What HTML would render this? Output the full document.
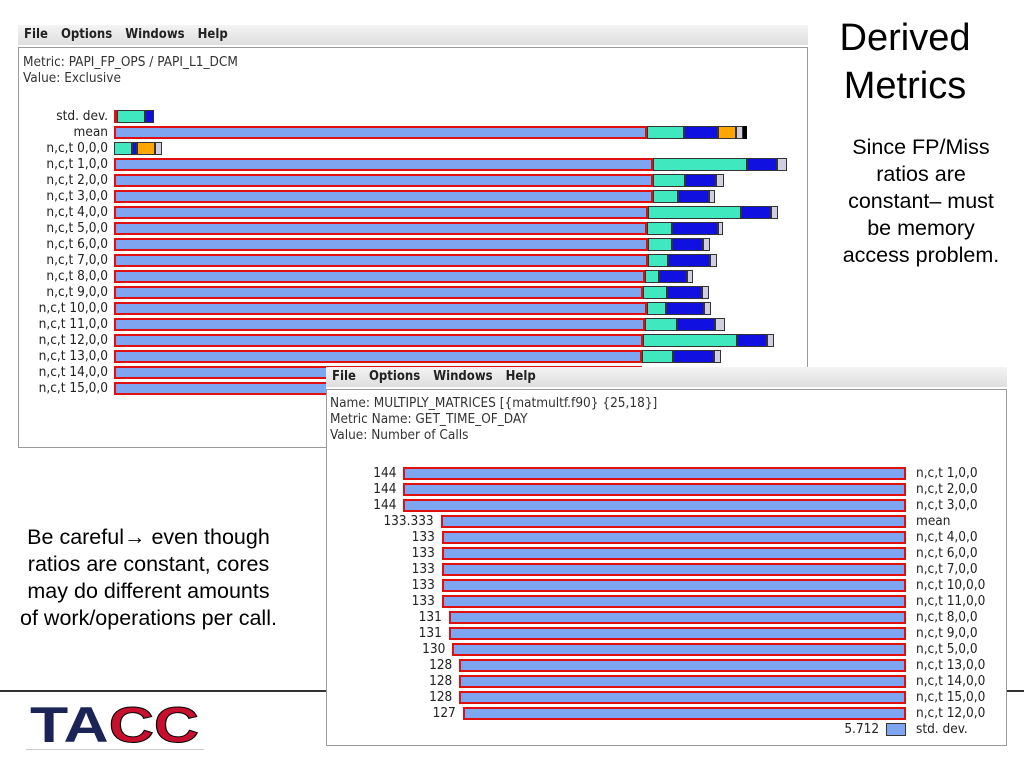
<!DOCTYPE html>
<html><head><meta charset="utf-8"><style>
body{margin:0;width:1024px;height:768px;background:#fff;position:relative;overflow:hidden;font-family:"Liberation Sans","DejaVu Sans",sans-serif}
.win{position:absolute;background:#fff}
.menu{position:absolute;left:0;right:0;top:0;height:20px;background:linear-gradient(#f4f4f4,#dedede);font:bold 13px "DejaVu Sans Condensed","DejaVu Sans",sans-serif;color:#222;line-height:20px}
.menu span{margin-left:6px;margin-right:7px}
.panel{position:absolute;border:1px solid #9a9a9a;background:#fff}
.info{position:absolute;font:13.5px "DejaVu Sans Condensed","DejaVu Sans",sans-serif;color:#333;line-height:16px}
.lbl{position:absolute;font:13.5px "DejaVu Sans Condensed","DejaVu Sans",sans-serif;color:#222;white-space:nowrap;line-height:15px}
.seg{position:absolute;box-sizing:border-box;border:1px solid #333}
.rt{position:absolute;font-size:21.5px;color:#000;text-align:center;line-height:27px;white-space:nowrap}
</style></head><body>
<div class="win" style="left:18px;top:25px;width:790px;height:423px">
 <div class="menu"><span>File</span><span>Options</span><span>Windows</span><span>Help</span></div>
 <div class="panel" style="left:0;top:22px;width:788px;height:399px"></div>
 <div class="info" style="left:5px;top:29px">Metric: PAPI_FP_OPS / PAPI_L1_DCM<br>Value: Exclusive</div>
</div>
<div id="c1"></div>
<div class="rt" style="left:820px;top:14px;width:170px;font-size:38px;line-height:48px">Derived<br>Metrics</div>
<div class="rt" style="left:830px;top:134px;width:182px">Since FP/Miss<br>ratios are<br>constant– must<br>be memory<br>access problem.</div>
<div class="rt" style="left:6px;top:524px;width:285px">Be careful→ even though<br>ratios are constant, cores<br>may do different amounts<br>of work/operations per call.</div>
<div style="position:absolute;left:0;top:690px;width:1024px;height:2px;background:#333"></div>
<div class="win" style="left:326px;top:367px;width:681px;height:379px">
 <div class="menu"><span>File</span><span>Options</span><span>Windows</span><span>Help</span></div>
 <div class="panel" style="left:0;top:22px;width:679px;height:355px"></div>
 <div class="info" style="left:4px;top:28px">Name: MULTIPLY_MATRICES [{matmultf.f90} {25,18}]<br>Metric Name: GET_TIME_OF_DAY<br>Value: Number of Calls</div>
</div>
<div id="c2"></div>
<div style="position:absolute;left:30px;top:700px;width:176px;height:50px;font:900 50px 'Liberation Sans',sans-serif;line-height:50px;transform:scaleX(1.25);transform-origin:left top;white-space:nowrap"><span style="color:#1a2456">T</span><span style="color:#1a2456">A</span><span style="color:#c8102e;-webkit-text-stroke:1px #000">CC</span></div>
<div style="position:absolute;left:26px;top:749px;width:178px;height:1px;background:#ccc"></div>
<script>
const rows1=["std. dev.","mean","n,c,t 0,0,0","n,c,t 1,0,0","n,c,t 2,0,0","n,c,t 3,0,0","n,c,t 4,0,0","n,c,t 5,0,0","n,c,t 6,0,0","n,c,t 7,0,0","n,c,t 8,0,0","n,c,t 9,0,0","n,c,t 10,0,0","n,c,t 11,0,0","n,c,t 12,0,0","n,c,t 13,0,0","n,c,t 14,0,0","n,c,t 15,0,0"];
const sMain=[3,533,0,539,539,539,534,533,534,534,531,529,533,531,529,528,528,528];
const sTeal=[28,37,18,94,32,25,93,25,24,20,14,24,19,32,94,31,0,0];
const sBlue=[9,34,5,30,31,31,30,46,31,42,28,35,38,38,30,41,0,0];
const sOrange=[0,18,18,0,0,0,0,0,0,0,0,0,0,0,0,0,0,0];
const sGray=[0,7,7,10,8,6,7,5,7,7,6,7,7,10,7,7,0,0];
const sBlack=[0,4,0,0,0,0,0,0,0,0,0,0,0,0,0,0,0,0];
const cols=[["#7ea6f0","#e01010"],["#40e8c0","#333"],["#1010e0","#333"],["#ffa500","#333"],["#cfcfdf","#333"],["#000","#000"]];
const series=[sMain,sTeal,sBlue,sOrange,sGray,sBlack];
const X0=114,Y0=110,RH=16,BH=13,SC=1;
const c1=document.getElementById('c1');
rows1.forEach((r,i)=>{
 const y=Y0+i*RH;
 const l=document.createElement('div');l.className='lbl';
 
 
 l.style.cssText=`right:${1024-108}px;top:${y-1}px`;l.textContent=r;c1.appendChild(l);
 let x=X0;
 series.forEach((s,k)=>{const w=s[i]*SC;if(w<=0)return;
  const d=document.createElement('div');d.className='seg';
  
  
  d.style.cssText=`left:${x}px;top:${y}px;width:${w}px;height:${BH}px;background:${cols[k][0]};border-color:${cols[k][1]}`+(k==0?';border-width:2px':'');
  c1.appendChild(d);x+=w;});
});
const rows2=["n,c,t 1,0,0","n,c,t 2,0,0","n,c,t 3,0,0","mean","n,c,t 4,0,0","n,c,t 6,0,0","n,c,t 7,0,0","n,c,t 10,0,0","n,c,t 11,0,0","n,c,t 8,0,0","n,c,t 9,0,0","n,c,t 5,0,0","n,c,t 13,0,0","n,c,t 14,0,0","n,c,t 15,0,0","n,c,t 12,0,0","std. dev."];
const vals2=[144,144,144,133.333,133,133,133,133,133,131,131,130,128,128,128,127,5.712];
const labels2=["144","144","144","133.333","133","133","133","133","133","131","131","130","128","128","128","127","5.712"];
const XR=906,Y2=467,SC2=3.49;
const c2=document.getElementById('c2');
rows2.forEach((r,i)=>{
 const y=Y2+i*RH,w=vals2[i]*SC2;
 const d=document.createElement('div');d.className='seg';
 
 
 d.style.cssText=`left:${XR-w}px;top:${y}px;width:${w}px;height:${BH}px;background:#7ea6f0;border:2px solid #e01010`+(i==16?';border-color:#333;border-width:1px':'');
 c2.appendChild(d);
 const v=document.createElement('div');v.className='lbl';
 
 
 v.style.cssText=`right:${1024-(XR-w-7)}px;top:${y-1}px`;v.textContent=labels2[i];c2.appendChild(v);
 const l=document.createElement('div');l.className='lbl';
 
 
 l.style.cssText=`left:916px;top:${y-1}px`;l.textContent=r;c2.appendChild(l);
});
</script>
</body></html>
